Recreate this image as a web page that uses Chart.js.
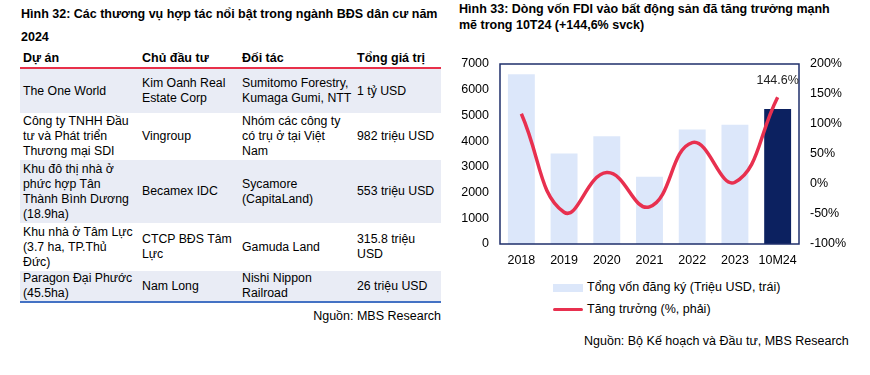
<!DOCTYPE html>
<html>
<head>
<meta charset="utf-8">
<script src="https://cdn.jsdelivr.net/npm/chart.js@4/dist/chart.umd.min.js"></script>
<style>
  body { margin: 0; width: 870px; height: 375px; background: #fff; position: relative; overflow: hidden;
         font-family: "Liberation Sans", Arial, sans-serif; color: #000; }
  .title { position: absolute; font-weight: bold; font-size: 12.5px; line-height: 23px; }
  table { position: absolute; left: 20px; top: 48px; border-collapse: collapse; font-size: 12.3px; line-height: 15px; table-layout: fixed; width: 421px; }
  td, th { padding: 0 0 0 3px; vertical-align: middle; text-align: left; }
  td.c1 { padding-right: 6px; }
  td.c3 { padding-right: 2px; }
  td.c4 { padding-right: 4px; }
  th { font-weight: bold; font-size: 12.5px; height: 18px; border-bottom: 2px solid #E8304A; vertical-align: bottom; padding-bottom: 1px; }
  tr.bg td { background: #E9ECF5; }
  tr.last td { border-bottom: 2px solid #4472C4; }
  .src { position: absolute; font-size: 12.5px; }
  #wrap { position: absolute; left: 450px; top: 44px; width: 420px; height: 230px; }
  .leg { position: absolute; font-size: 12.5px; line-height: 15px; }
</style>
</head>
<body>
<div class="title" style="left:21px; top:3px; width:430px;">Hình 32: Các thương vụ hợp tác nổi bật trong ngành BĐS dân cư năm 2024</div>
<table>
  <colgroup><col style="width:119px"><col style="width:100px"><col style="width:115px"><col style="width:87px"></colgroup>
  <tr><th>Dự án</th><th>Chủ đầu tư</th><th>Đối tác</th><th>Tổng giá trị</th></tr>
  <tr class="bg" style="height:45px"><td class="c1">The One World</td><td>Kim Oanh Real Estate Corp</td><td class="c3">Sumitomo Forestry, Kumaga Gumi, NTT</td><td class="c4">1 tỷ USD</td></tr>
  <tr style="height:47px"><td class="c1">Công ty TNHH Đầu tư và Phát triển Thương mại SDI</td><td>Vingroup</td><td class="c3">Nhóm các công ty có trụ ở tại Việt Nam</td><td class="c4">982 triệu USD</td></tr>
  <tr class="bg" style="height:63px"><td class="c1">Khu đô thị nhà ở phức hợp Tân Thành Bình Dương (18.9ha)</td><td>Becamex IDC</td><td class="c3">Sycamore (CapitaLand)</td><td class="c4">553 triệu USD</td></tr>
  <tr style="height:48px"><td class="c1">Khu nhà ở Tâm Lực (3.7 ha, TP.Thủ Đức)</td><td>CTCP BĐS Tâm Lực</td><td class="c3">Gamuda Land</td><td class="c4">315.8 triệu USD</td></tr>
  <tr class="bg last" style="height:30px"><td class="c1">Paragon Đại Phước (45.5ha)</td><td>Nam Long</td><td class="c3">Nishi Nippon Railroad</td><td class="c4">26 triệu USD</td></tr>
</table>
<div class="src" style="right:429px; top:309px;">Nguồn: MBS Research</div>

<div class="title" style="left:459px; top:1px; line-height:16px; width:378px;">Hình 33: Dòng vốn FDI vào bất động sản đã tăng trưởng mạnh mẽ trong 10T24 (+144,6% svck)</div>
<div id="wrap"><canvas id="fdi"></canvas></div>
<div style="position:absolute; left:553px; top:284px; width:30px; height:8px; background:#DCE7FA;"></div>
<div class="leg" style="left:587px; top:280px;">Tổng vốn đăng ký (Triệu USD, trái)</div>
<div style="position:absolute; left:553px; top:308px; width:30px; height:3px; background:#E8304F; border-radius:2px;"></div>
<div class="leg" style="left:587px; top:302px;">Tăng trưởng (%, phải)</div>
<div class="src" style="left:584px; top:334px;">Nguồn: Bộ Kế hoạch và Đầu tư, MBS Research</div>

<script>
var years = ['2018', '2019', '2020', '2021', '2022', '2023', '10M24'];
var vonDangKy = [6600, 3520, 4190, 2620, 4450, 4640, 5250];
var tangTruong = [117, -47, 19, -38, 69, 3, 144.6];
var leftTicks = [0, 1000, 2000, 3000, 4000, 5000, 6000, 7000];
var rightTicks = [-100, -50, 0, 50, 100, 150, 200];

var barColors = [];
for (var i = 0; i < years.length; i++) {
  barColors.push(i == years.length - 1 ? '#0C2160' : '#DCE7FA');
}

const frame = {
  id: 'frame',
  afterDatasetsDraw(chart) {
    var a = chart.chartArea, ctx = chart.ctx;
    ctx.save();
    ctx.strokeStyle = '#1F2F6B';
    ctx.lineWidth = 1.5;
    ctx.strokeRect(a.left, a.top, a.right - a.left, a.bottom - a.top);
    // label for last point
    var meta = chart.getDatasetMeta(1);
    var last = meta.data[meta.data.length - 1];
    ctx.fillStyle = '#222';
    ctx.font = '12.5px "Liberation Sans", Arial';
    ctx.textAlign = 'center';
    ctx.textBaseline = 'middle';
    ctx.fillText(tangTruong[tangTruong.length - 1].toFixed(1) + '%', last.x, last.y - 17);
    ctx.restore();
  }
};

const font = { family: '"Liberation Sans", Arial', size: 12.5 };

const config = {
  data: {
    labels: years,
    datasets: [{
      type: 'bar',
      label: 'Tổng vốn đăng ký (Triệu USD, trái)',
      data: vonDangKy,
      backgroundColor: barColors,
      barPercentage: 0.63,
      categoryPercentage: 1,
      yAxisID: 'y',
      order: 2
    },
    {
      type: 'line',
      label: 'Tăng trưởng (%, phải)',
      data: tangTruong,
      borderColor: '#E8304F',
      borderWidth: 3.5,
      tension: 0.45,
      pointRadius: 0,
      yAxisID: 'y1',
      order: 1
    }]
  },
  options: {
    responsive: true,
    maintainAspectRatio: false,
    animation: false,
    layout: { padding: { top: 20, left: 0, right: 0, bottom: 0 } },
    plugins: { legend: { display: false }, tooltip: { enabled: false } },
    scales: {
      x: {
        grid: { display: false, drawTicks: false },
        border: { display: false },
        ticks: { color: '#000', font: font, padding: 9, maxRotation: 0, minRotation: 0, autoSkip: false },
        afterFit: function(s) { s.height = 30; }
      },
      y: {
        position: 'left',
        min: 0, max: 7000,
        grid: { display: false, drawTicks: false },
        border: { display: false },
        afterBuildTicks: function(s) { s.ticks = leftTicks.map(function(v) { return { value: v }; }); },
        ticks: { color: '#000', font: font, padding: 11, callback: function(v) { return String(v); } },
        afterFit: function(s) { s.width = 50; }
      },
      y1: {
        position: 'right',
        min: -100, max: 200,
        grid: { display: false, drawTicks: false },
        border: { display: false },
        afterBuildTicks: function(s) { s.ticks = rightTicks.map(function(v) { return { value: v }; }); },
        ticks: { color: '#000', font: font, padding: 11, callback: function(v) { return v + '%'; } },
        afterFit: function(s) { s.width = 71; }
      }
    }
  },
  plugins: [frame]
};

const fdiChart = new Chart(document.getElementById('fdi'), config);
</script>
</body>
</html>
